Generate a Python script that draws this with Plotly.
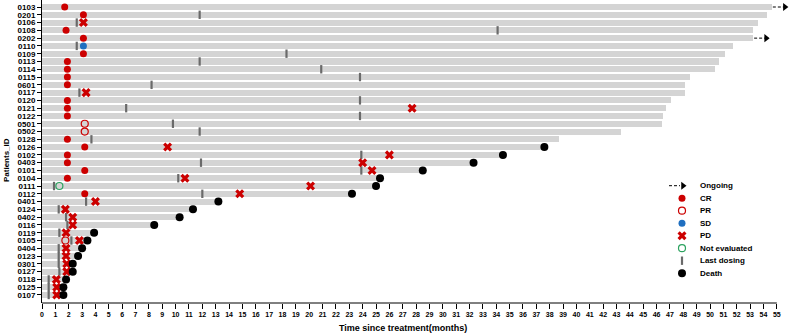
import plotly.graph_objects as go

patients = ["0103","0201","0106","0108","0202","0110","0109","0113","0114","0115",
            "0601","0117","0120","0121","0122","0501","0502","0128","0126","0102",
            "0403","0101","0104","0111","0112","0401","0124","0402","0116","0119",
            "0105","0404","0123","0301","0127","0118","0125","0107"]
duration = [54.6,54.3,53.6,53.2,53.2,51.7,51.1,50.7,50.4,48.5,
            48.1,48.1,47.1,46.7,46.5,46.4,43.3,38.7,37.6,34.5,
            32.3,28.5,25.3,25.0,23.2,13.2,11.3,10.3,8.4,3.9,
            3.4,3.0,2.7,2.3,2.3,1.8,1.6,1.6]
ongoing = ["0103","0202"]
N = None
cr = [1.7,3.1,N,1.8,3.1,N,3.1,1.9,1.9,1.9,
      1.9,N,1.9,1.9,1.9,N,N,1.9,3.2,1.9,
      1.9,3.2,1.9,N,3.2,N,N,N,N,N,
      N,N,N,N,N,N,N,N]
pr = [N,N,N,N,N,N,N,N,N,N,
      N,N,N,N,N,3.2,3.2,N,N,N,
      N,N,N,N,N,N,N,N,N,N,
      1.75,N,N,N,N,N,N,N]
sd = [N,N,N,N,N,3.1,N,N,N,N,
      N,N,N,N,N,N,N,N,N,N,
      N,N,N,N,N,N,N,N,N,N,
      N,N,N,N,N,N,N,N]
pd_ = [N,N,3.1,N,N,N,N,N,N,N,
       N,3.3,N,27.7,N,N,N,N,9.4,26.0,
       24.0,24.7,10.7,20.1,14.8,4.0,1.75,2.3,2.3,1.8,
       2.8,1.8,1.8,1.85,1.85,1.07,1.1,1.1]
ne = [N,N,N,N,N,N,N,N,N,N,
      N,N,N,N,N,N,N,N,N,N,
      N,N,N,1.3,N,N,N,N,N,N,
      N,N,N,N,N,N,N,N]
last_dose = [N,11.8,2.6,34.1,N,2.6,18.3,11.8,20.9,23.8,
             8.2,2.8,23.8,6.3,23.8,9.8,11.8,3.7,N,23.9,
             11.9,23.9,10.2,0.9,12.0,3.3,1.25,1.8,1.9,1.3,
             2.2,1.25,1.25,1.25,1.3,0.5,0.5,0.5]
death = [N,N,N,N,N,N,N,N,N,N,
         N,N,N,N,N,N,N,N,37.6,34.5,
         32.3,28.5,25.3,25.0,23.2,13.2,11.3,10.3,8.4,3.9,
         3.4,3.0,2.7,2.3,2.3,1.8,1.6,1.6]
x_ticks = list(range(0, 56))

n = len(patients)
ypos = [n - 1 - i for i in range(n)]

FONT = "Liberation Sans, Arial, sans-serif"
RED = "#cc0000"

def pts(vals):
    xs, ys = [], []
    for v, y in zip(vals, ypos):
        if v is not None:
            xs.append(v); ys.append(y)
    return xs, ys

fig = go.Figure()
fig.add_trace(go.Bar(x=duration, y=ypos, orientation="h", width=0.78,
                     marker=dict(color="#d4d4d4", line=dict(width=0)),
                     showlegend=False, hoverinfo="skip"))

# ongoing arrows
for p, d, y in zip(patients, duration, ypos):
    if p in ongoing:
        fig.add_trace(go.Scatter(x=[d + 0.1, d + 0.95], y=[y, y], mode="lines",
                                 line=dict(color="black", width=1, dash="3px,2px"),
                                 showlegend=False, hoverinfo="skip"))
        fig.add_trace(go.Scatter(x=[d + 1.0], y=[y], mode="markers",
                                 marker=dict(symbol="triangle-right", size=7, color="black"),
                                 showlegend=False, hoverinfo="skip", cliponaxis=False))

def add_markers(vals, marker):
    xs, ys = pts(vals)
    fig.add_trace(go.Scatter(x=xs, y=ys, mode="markers", marker=marker,
                             showlegend=False, cliponaxis=False))

dose_marker = dict(symbol="line-ns", size=6, color="#6a6a6a", line=dict(width=2.2, color="#6a6a6a"))
cr_marker = dict(symbol="circle", size=7, color=RED, line=dict(width=0))
pr_marker = dict(symbol="circle-open", size=7, color=RED, line=dict(width=1.2))
sd_marker = dict(symbol="circle", size=7, color="#1f6fc0", line=dict(width=0))
pd_marker = dict(symbol="x", size=8, color=RED, line=dict(width=0))
ne_marker = dict(symbol="circle-open", size=7, color="#2ca25f", line=dict(width=1.2))
death_marker = dict(symbol="circle", size=8, color="black", line=dict(width=0))

add_markers(last_dose, dose_marker)
add_markers(cr, cr_marker)
add_markers(pr, pr_marker)
add_markers(sd, sd_marker)
add_markers(ne, ne_marker)
add_markers(pd_, pd_marker)
add_markers(death, death_marker)

# custom legend in an overlay pixel-space axis
W, H = 790, 335
ML, MR, MT, MB = 42, 1, 0, 32
PW, PH = W - ML - MR, H - MT - MB

def px2paper(px, py):
    return (px - ML) / PW, (H - MB - py) / PH

legend_items = ["Ongoing", "CR", "PR", "SD", "PD", "Not evaluated", "Last dosing", "Death"]
legend_markers = [None, cr_marker, pr_marker, sd_marker, pd_marker, ne_marker, dose_marker, death_marker]
lx, ltx, ly0, ldy = 682, 698, 185.7, 12.5
for k, (name, mk) in enumerate(zip(legend_items, legend_markers)):
    yy = ly0 + k * ldy
    if mk is None:
        fig.add_trace(go.Scatter(x=[lx - 13, lx - 2], y=[yy, yy], mode="lines",
                                 line=dict(color="black", width=1, dash="3px,2px"),
                                 xaxis="x2", yaxis="y2", showlegend=False, hoverinfo="skip"))
        fig.add_trace(go.Scatter(x=[lx + 1], y=[yy], mode="markers",
                                 marker=dict(symbol="triangle-right", size=7, color="black"),
                                 xaxis="x2", yaxis="y2", showlegend=False, hoverinfo="skip"))
    else:
        fig.add_trace(go.Scatter(x=[lx], y=[yy], mode="markers", marker=mk,
                                 xaxis="x2", yaxis="y2", showlegend=False, hoverinfo="skip"))
    fig.add_annotation(x=ltx, y=yy, xref="x2", yref="y2", text=name, showarrow=False,
                       xanchor="left", yanchor="middle",
                       font=dict(family=FONT, size=8, color="black", weight="bold"))

fig.add_shape(type="line", xref="x", yref="paper", x0=0, x1=55, y0=0, y1=0,
              line=dict(color="black", width=1))

fig.update_layout(
    width=W, height=H, margin=dict(l=ML, r=MR, t=MT, b=MB, autoexpand=False),
    plot_bgcolor="white", paper_bgcolor="white", bargap=0,
    font=dict(family=FONT, color="black"),
    xaxis=dict(range=[0, 55.91], tickvals=x_ticks, ticktext=[str(t) for t in x_ticks],
               showline=False, showgrid=False, zeroline=False, automargin=False,
               ticks="outside", ticklen=5, tickwidth=1, tickcolor="black",
               tickfont=dict(family=FONT, size=7, weight="bold")),
    yaxis=dict(range=[-1.03, n - 1 + 0.9], tickvals=ypos, ticktext=patients,
               showline=True, linecolor="black", linewidth=1, showgrid=False, zeroline=False,
               automargin=False,
               ticks="outside", ticklen=4, tickwidth=1, tickcolor="black",
               tickfont=dict(family=FONT, size=8, weight="bold")),
    xaxis2=dict(range=[ML, W - MR], overlaying="x", visible=False, fixedrange=True),
    yaxis2=dict(range=[H - MB, MT], overlaying="y", visible=False, fixedrange=True),
    showlegend=False,
)

tx, ty = px2paper(403, 328)
fig.add_annotation(x=tx, y=ty, xref="paper", yref="paper", text="Time since treatment(months)",
                   showarrow=False, xanchor="center", yanchor="middle",
                   font=dict(family=FONT, size=9, weight="bold"))
px_, py_ = px2paper(7, 160)
fig.add_annotation(x=px_, y=py_, xref="paper", yref="paper", text="Patients_ID", textangle=-90,
                   showarrow=False, xanchor="center", yanchor="middle",
                   font=dict(family=FONT, size=8, weight="bold"))

fig.write_html("out.html", config={"displayModeBar": False},
               post_script="document.body.style.margin='0px';document.body.style.overflow='hidden';")
